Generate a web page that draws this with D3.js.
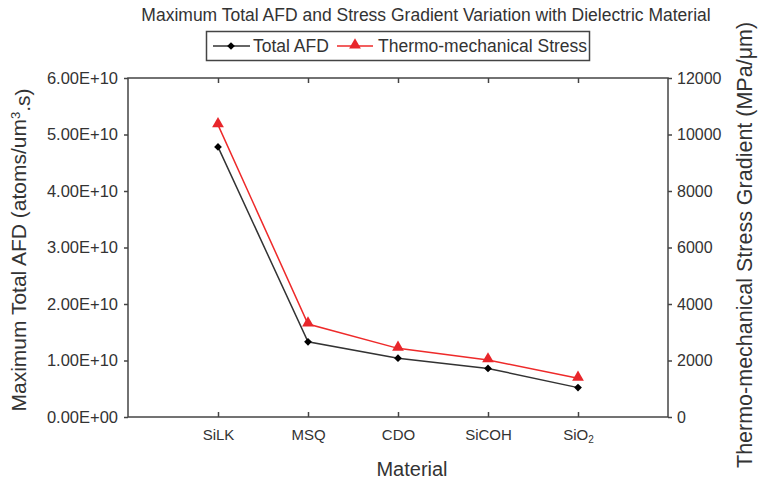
<!DOCTYPE html>
<html>
<head>
<meta charset="utf-8">
<script src="https://cdn.jsdelivr.net/npm/d3@7"></script>
<style>
	body { margin: 0; background: #fff; }
	svg text { fill: #333; }
	.axis path, .axis line { stroke: #444; stroke-width: 1.5; }
</style>
</head>
<body>
<div id="chart"></div>
<script>

// data
var materials = ["SiLK", "MSQ", "CDO", "SiCOH", "SiO2"];
var afd_values = [4.78e10, 1.33e10, 1.04e10, 0.86e10, 0.52e10];
var stress_values = [10340, 3290, 2430, 2020, 1370];
var afd_ticks = [0, 1e10, 2e10, 3e10, 4e10, 5e10, 6e10];
var stress_ticks = [0, 2000, 4000, 6000, 8000, 10000, 12000];

var W = 761, H = 484;
var margin = {top: 78, right: 93, bottom: 67, left: 128};
var width = W - margin.left - margin.right;
var height = H - margin.top - margin.bottom;

var narrow = "'Liberation Sans Narrow', 'Arial Narrow', sans-serif";
var sans = "'Liberation Sans', Arial, sans-serif";

function fmt_sci(v){
	// 6.00E+10 style, exponent padded to 2 digits
	var s = d3.format(".2e")(v);
	var parts = s.split("e");
	var sign = parts[1][0];
	var ex = parts[1].slice(1);
	if (ex.length < 2) ex = "0" + ex;
	return parts[0] + "E" + sign + ex;
}

function render_chart(){
	var svg = d3.select("#chart")
		.append("svg")
		.attr("width", W)
		.attr("height", H);

	var g = svg.append("g")
		.attr("transform", "translate(" + margin.left + "," + margin.top + ")");

	var x = d3.scalePoint().domain(materials).range([0, width]).padding(1);
	var y = d3.scaleLinear().domain([0, 6e10]).range([height, 0]);
	var y2 = d3.scaleLinear().domain([0, 12000]).range([height, 0]);

	// frame
	g.append("rect")
		.attr("width", width)
		.attr("height", height)
		.attr("fill", "none")
		.attr("stroke", "#444")
		.attr("stroke-width", 1.5);

	// bottom axis, ticks pointing in
	var xa = g.append("g")
		.attr("class", "axis")
		.attr("transform", "translate(0," + height + ")")
		.call(d3.axisBottom(x).tickSizeInner(-5).tickSizeOuter(0).tickPadding(12));
	xa.select(".domain").remove();
	xa.selectAll("text")
		.style("font-family", sans)
		.style("font-size", "15px")
		.text(function(d){ return d === "SiO2" ? "SiO" : d; })
		.filter(function(d){ return d === "SiO2"; })
		.append("tspan")
		.attr("dy", "0.3em")
		.style("font-size", "10px")
		.text("2");

	// top ticks
	var xt = g.append("g")
		.attr("class", "axis")
		.call(d3.axisTop(x).tickSizeInner(-5).tickSizeOuter(0).tickFormat(""));
	xt.select(".domain").remove();

	// left axis
	var ya = g.append("g")
		.attr("class", "axis")
		.call(d3.axisLeft(y).tickValues(afd_ticks).tickFormat(fmt_sci).tickSizeInner(4).tickSizeOuter(0).tickPadding(6));
	ya.select(".domain").remove();
	ya.selectAll("text")
		.style("font-family", sans)
		.style("font-size", "16.5px");

	// right axis
	var yb = g.append("g")
		.attr("class", "axis")
		.attr("transform", "translate(" + width + ",0)")
		.call(d3.axisRight(y2).tickValues(stress_ticks).tickFormat(d3.format("d")).tickSizeInner(4).tickSizeOuter(0).tickPadding(5));
	yb.select(".domain").remove();
	yb.selectAll("text")
		.style("font-family", sans)
		.style("font-size", "16px");

	// series lines
	var line_afd = d3.line()
		.x(function(d, i){ return x(materials[i]); })
		.y(function(d){ return y(d); });
	var line_stress = d3.line()
		.x(function(d, i){ return x(materials[i]); })
		.y(function(d){ return y2(d); });

	g.append("path")
		.datum(afd_values)
		.attr("d", line_afd)
		.attr("fill", "none")
		.attr("stroke", "#333")
		.attr("stroke-width", 1.5);

	g.append("path")
		.datum(stress_values)
		.attr("d", line_stress)
		.attr("fill", "none")
		.attr("stroke", "#ee2a2a")
		.attr("stroke-width", 1.5);

	// diamond = square turned 45 degrees
	var diamond = d3.symbol().type(d3.symbolSquare).size(30);
	var triangle = d3.symbol().type(d3.symbolTriangle).size(60);

	g.selectAll(".afd_dot")
		.data(afd_values)
		.enter().append("path")
		.attr("class", "afd_dot")
		.attr("d", diamond)
		.attr("fill", "#000")
		.attr("transform", function(d, i){ return "translate(" + x(materials[i]) + "," + y(d) + ") rotate(45)"; });

	g.selectAll(".stress_dot")
		.data(stress_values)
		.enter().append("path")
		.attr("class", "stress_dot")
		.attr("d", triangle)
		.attr("fill", "#e8262b")
		.attr("transform", function(d, i){ return "translate(" + x(materials[i]) + "," + (y2(d) - 1) + ")"; });

	// title
	svg.append("text")
		.attr("x", 426)
		.attr("y", 21)
		.attr("text-anchor", "middle")
		.style("font-family", narrow)
		.style("font-size", "17.5px")
		.text("Maximum Total AFD and Stress Gradient Variation with Dielectric Material");

	// legend
	var lg = svg.append("g");
	lg.append("rect")
		.attr("x", 206.5).attr("y", 31.5)
		.attr("width", 383).attr("height", 29)
		.attr("fill", "#fff")
		.attr("stroke", "#444")
		.attr("stroke-width", 1.5);
	lg.append("line")
		.attr("x1", 213).attr("x2", 250).attr("y1", 46).attr("y2", 46)
		.attr("stroke", "#333").attr("stroke-width", 1.5);
	lg.append("path")
		.attr("d", diamond)
		.attr("fill", "#000")
		.attr("transform", "translate(231,46) rotate(45)");
	lg.append("text")
		.attr("x", 253).attr("y", 52)
		.style("font-family", narrow)
		.style("font-size", "17.5px")
		.text("Total AFD");
	lg.append("line")
		.attr("x1", 337).attr("x2", 373).attr("y1", 46).attr("y2", 46)
		.attr("stroke", "#ee2a2a").attr("stroke-width", 1.5);
	lg.append("path")
		.attr("d", triangle)
		.attr("fill", "#e8262b")
		.attr("transform", "translate(355,45)");
	lg.append("text")
		.attr("x", 378).attr("y", 52)
		.style("font-family", narrow)
		.style("font-size", "17.5px")
		.text("Thermo-mechanical Stress");

	// axis titles
	svg.append("text")
		.attr("x", 412).attr("y", 476)
		.attr("text-anchor", "middle")
		.style("font-family", sans)
		.style("font-size", "20px")
		.text("Material");

	var yl = svg.append("text")
		.attr("transform", "translate(26,250) rotate(-90)")
		.attr("text-anchor", "middle")
		.style("font-family", sans)
		.style("font-size", "21px");
	yl.append("tspan").text("Maximum Total AFD (atoms/um");
	yl.append("tspan").attr("dy", "-0.5em").style("font-size", "13px").text("3");
	yl.append("tspan").attr("dy", "0.5em").text(".s)");

	svg.append("text")
		.attr("transform", "translate(752,468) rotate(-90)")
		.attr("text-anchor", "start")
		.style("font-family", sans)
		.style("font-size", "21.5px")
		.text("Thermo-mechanical Stress Gradient (MPa/\u03bcm)");
}

window.onload = render_chart;
</script>
</body>
</html>
